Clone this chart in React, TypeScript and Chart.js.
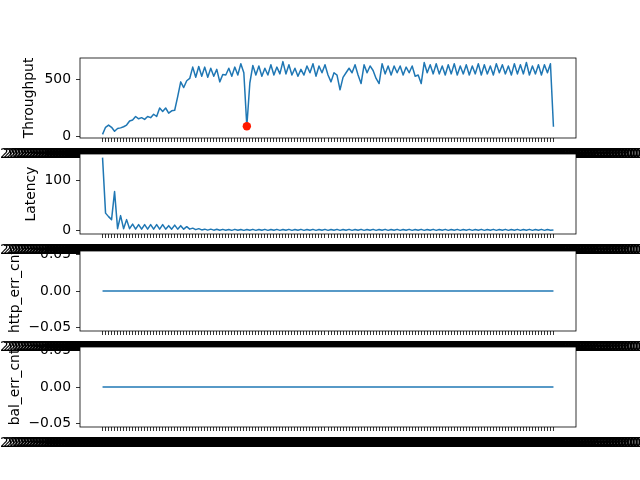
import React, { useEffect, useRef } from "react";
import { Chart, registerables } from "chart.js";

Chart.register(...registerables);

// ---------- data ----------
const throughput: number[] = [
  18, 80, 100, 80, 45, 70, 75, 85, 100, 135,
  145, 175, 155, 165, 150, 175, 165, 195, 175, 250,
  220, 250, 205, 225, 230, 350, 480, 430, 490, 510,
  610, 520, 615, 530, 610, 520, 600, 530, 590, 480,
  545, 540, 600, 530, 610, 540, 640, 560, 90, 470,
  625, 540, 620, 530, 600, 540, 630, 540, 610, 550,
  658, 550, 630, 540, 600, 530, 590, 540, 620, 560,
  640, 530, 620, 560, 630, 540, 480, 560, 540, 410,
  520, 560, 600, 560, 630, 540, 465, 630, 560, 620,
  580, 510, 465, 640, 550, 620, 540, 620, 560, 620,
  540, 610, 560, 620, 530, 540, 465, 650, 560, 630,
  550, 640, 550, 620, 540, 630, 550, 640, 540, 620,
  550, 630, 540, 620, 550, 640, 540, 630, 550, 620,
  540, 640, 560, 630, 550, 620, 540, 640, 550, 630,
  550, 650, 540, 620, 550, 630, 540, 630, 560, 640,
  85,
];

const latency: number[] = [
  145.7, 35, 28, 22, 78, 4, 30, 4, 22, 4,
  13, 3, 12, 3, 12, 3, 12, 3, 12, 3,
  12, 3, 10, 3, 11, 3, 10, 3, 8, 3,
  5, 2, 4, 1.5, 3, 1, 3, 1, 2.8, 0.8,
  2.6, 0.8, 2.4, 0.6, 2.6, 0.7, 2.5, 0.6, 2.4, 0.8,
  2.6, 0.6, 2.5, 0.7, 2.6, 0.6, 2.4, 0.8, 2.6, 0.6,
  2.5, 0.7, 2.6, 0.6, 2.4, 0.8, 2.6, 0.6, 2.5, 0.7,
  2.6, 0.6, 2.4, 0.8, 2.6, 0.6, 2.5, 0.7, 2.6, 0.6,
  2.4, 0.8, 2.6, 0.6, 2.5, 0.7, 2.6, 0.6, 2.4, 0.8,
  2.6, 0.6, 2.5, 0.7, 2.6, 0.6, 2.4, 0.8, 2.6, 0.6,
  2.5, 0.7, 2.6, 0.6, 2.4, 0.8, 2.6, 0.6, 2.5, 0.7,
  2.6, 0.6, 2.4, 0.8, 2.6, 0.6, 2.5, 0.7, 2.6, 0.6,
  2.4, 0.8, 2.6, 0.6, 2.5, 0.7, 2.6, 0.6, 2.4, 0.8,
  2.6, 0.6, 2.5, 0.7, 2.6, 0.6, 2.4, 0.8, 2.6, 0.6,
  2.5, 0.7, 2.6, 0.6, 2.4, 0.8, 2.6, 0.6, 2.5, 0.7,
  1.5,
];

const httpErrCnt: number[] = [
  0, 0, 0, 0, 0, 0, 0, 0, 0, 0,
  0, 0, 0, 0, 0, 0, 0, 0, 0, 0,
  0, 0, 0, 0, 0, 0, 0, 0, 0, 0,
  0, 0, 0, 0, 0, 0, 0, 0, 0, 0,
  0, 0, 0, 0, 0, 0, 0, 0, 0, 0,
  0, 0, 0, 0, 0, 0, 0, 0, 0, 0,
  0, 0, 0, 0, 0, 0, 0, 0, 0, 0,
  0, 0, 0, 0, 0, 0, 0, 0, 0, 0,
  0, 0, 0, 0, 0, 0, 0, 0, 0, 0,
  0, 0, 0, 0, 0, 0, 0, 0, 0, 0,
  0, 0, 0, 0, 0, 0, 0, 0, 0, 0,
  0, 0, 0, 0, 0, 0, 0, 0, 0, 0,
  0, 0, 0, 0, 0, 0, 0, 0, 0, 0,
  0, 0, 0, 0, 0, 0, 0, 0, 0, 0,
  0, 0, 0, 0, 0, 0, 0, 0, 0, 0,
  0,
];

const balErrCnt: number[] = [
  0, 0, 0, 0, 0, 0, 0, 0, 0, 0,
  0, 0, 0, 0, 0, 0, 0, 0, 0, 0,
  0, 0, 0, 0, 0, 0, 0, 0, 0, 0,
  0, 0, 0, 0, 0, 0, 0, 0, 0, 0,
  0, 0, 0, 0, 0, 0, 0, 0, 0, 0,
  0, 0, 0, 0, 0, 0, 0, 0, 0, 0,
  0, 0, 0, 0, 0, 0, 0, 0, 0, 0,
  0, 0, 0, 0, 0, 0, 0, 0, 0, 0,
  0, 0, 0, 0, 0, 0, 0, 0, 0, 0,
  0, 0, 0, 0, 0, 0, 0, 0, 0, 0,
  0, 0, 0, 0, 0, 0, 0, 0, 0, 0,
  0, 0, 0, 0, 0, 0, 0, 0, 0, 0,
  0, 0, 0, 0, 0, 0, 0, 0, 0, 0,
  0, 0, 0, 0, 0, 0, 0, 0, 0, 0,
  0, 0, 0, 0, 0, 0, 0, 0, 0, 0,
  0,
];

// indices of the flagged anomaly on the throughput panel
const throughputAnomalies: number[] = [48];

// y tick values per panel
const throughputTicks: number[] = [0, 500];
const latencyTicks: number[] = [0, 100];
const errTicks: number[] = [-0.05, 0, 0.05];

// x tick labels: one timestamp per sample
const START_MS = Date.UTC(2023, 5, 12, 10, 32, 22, 322);
const STEP_MS = 10000;
const pad2 = (n: number) => String(n).padStart(2, "0");
const timeLabels: string[] = throughput.map((_, i) => {
  const d = new Date(START_MS + i * STEP_MS);
  return (
    `${d.getUTCFullYear()}-${pad2(d.getUTCMonth() + 1)}-${pad2(d.getUTCDate())} ` +
    `${pad2(d.getUTCHours())}:${pad2(d.getUTCMinutes())}:${pad2(d.getUTCSeconds())}.` +
    `${String(d.getUTCMilliseconds()).padStart(3, "0")}000`
  );
});
const xTickValues: number[] = timeLabels.map((_, i) => i);

// ---------- styling ----------
const FONT = { family: "'DejaVu Sans', sans-serif", size: 13.9 };
const LINE_COLOR = "#1f77b4";
const CANVAS_W = 640;
const CANVAS_H = 122;

const intFmt = (v: number) => String(Math.round(v));
const errFmt = (v: number) => {
  const s = Math.abs(v) < 1e-12 ? "0.00" : v.toFixed(2);
  return s.replace("-", "\u2212");
};

function limits(vals: number[]): [number, number] {
  const lo = Math.min(...vals);
  const hi = Math.max(...vals);
  const r = hi - lo;
  if (r === 0) return [lo - 0.055, hi + 0.055];
  return [lo - 0.05 * r, hi + 0.05 * r];
}

type Panel = {
  title: string;
  values: number[];
  yTicks: number[];
  fmt: (v: number) => string;
  titlePad: number;
  top: number;
  anomalies?: number[];
};

const panels: Panel[] = [
  { title: "Throughput", values: throughput, yTicks: throughputTicks, fmt: intFmt, titlePad: 20.7, top: 46, anomalies: throughputAnomalies },
  { title: "Latency", values: latency, yTicks: latencyTicks, fmt: intFmt, titlePad: 22.7, top: 142 },
  { title: "http_err_cnt", values: httpErrCnt, yTicks: errTicks, fmt: errFmt, titlePad: 6.7, top: 239 },
  { title: "bal_err_cnt", values: balErrCnt, yTicks: errTicks, fmt: errFmt, titlePad: 6.7, top: 335 },
];

const framePlugin = {
  id: "axesFrame",
  beforeDraw(chart: any) {
    const { ctx, chartArea: a } = chart;
    ctx.save();
    ctx.fillStyle = "#ffffff";
    ctx.fillRect(a.left, a.top, a.right - a.left, a.bottom - a.top);
    ctx.restore();
  },
  afterDraw(chart: any) {
    const { ctx, chartArea: a } = chart;
    ctx.save();
    ctx.strokeStyle = "#000000";
    ctx.lineWidth = 0.8;
    ctx.strokeRect(a.left, a.top, a.right - a.left, a.bottom - a.top);
    ctx.restore();
  },
};

function buildConfig(p: Panel): any {
  const n = p.values.length;
  const [yMin, yMax] = limits(p.values);
  const datasets: any[] = [
    {
      type: "line",
      data: p.values.map((v, i) => ({ x: i, y: v })),
      borderColor: LINE_COLOR,
      borderWidth: 1.5,
      pointRadius: 0,
      tension: 0,
      fill: false,
      borderJoinStyle: "round",
      order: 1,
    },
  ];
  if (p.anomalies) {
    datasets.push({
      type: "scatter",
      data: p.anomalies.map((i) => ({ x: i, y: p.values[i] })),
      backgroundColor: "#ff1a00",
      borderColor: "#ff1a00",
      borderWidth: 0,
      pointRadius: 4.2,
      order: -1,
    });
  }
  const xSpan = n - 1;
  return {
    type: "line",
    data: { datasets },
    options: {
      animation: false,
      responsive: false,
      events: [],
      layout: { padding: { left: 0, right: 64, top: 12, bottom: 0 } },
      plugins: { legend: { display: false }, tooltip: { enabled: false } },
      scales: {
        x: {
          type: "linear",
          min: -0.05 * xSpan,
          max: xSpan + 0.05 * xSpan,
          afterBuildTicks: (s: any) => {
            s.ticks = xTickValues.map((v) => ({ value: v }));
          },
          afterFit: (s: any) => {
            s.height = 30;
            s.paddingLeft = 0;
            s.paddingRight = 0;
          },
          ticks: {
            autoSkip: false,
            maxRotation: 0,
            minRotation: 0,
            padding: 4.5,
            color: "#000",
            font: FONT,
            callback: (v: number) => timeLabels[v] ?? "",
          },
          grid: {
            display: true,
            drawOnChartArea: false,
            drawTicks: true,
            tickLength: 4,
            tickColor: "#000",
            tickWidth: 0.8,
          },
          border: { display: false },
        },
        y: {
          type: "linear",
          min: yMin,
          max: yMax,
          afterBuildTicks: (s: any) => {
            s.ticks = p.yTicks.map((v) => ({ value: v }));
          },
          afterFit: (s: any) => {
            s.width = 80;
            s.paddingTop = 0;
            s.paddingBottom = 0;
          },
          ticks: {
            padding: 5,
            color: "#000",
            font: FONT,
            callback: (v: number) => p.fmt(v),
          },
          grid: {
            display: true,
            drawOnChartArea: false,
            drawTicks: true,
            tickLength: 4,
            tickColor: "#000",
            tickWidth: 0.8,
          },
          border: { display: false },
          title: {
            display: true,
            text: p.title,
            color: "#000",
            font: FONT,
            padding: { top: p.titlePad, bottom: 0 },
          },
        },
      },
    },
    plugins: [framePlugin],
  };
}

function PanelChart({ panel }: { panel: Panel }) {
  const ref = useRef<HTMLCanvasElement | null>(null);
  useEffect(() => {
    if (!ref.current) return;
    const chart = new Chart(ref.current, buildConfig(panel));
    return () => chart.destroy();
  }, [panel]);
  return (
    <canvas
      ref={ref}
      width={CANVAS_W}
      height={CANVAS_H}
      style={{ position: "absolute", left: 0, top: panel.top, width: CANVAS_W, height: CANVAS_H }}
    />
  );
}

export default function App() {
  return (
    <div
      style={{
        position: "fixed",
        left: 0,
        top: 0,
        width: 640,
        height: 480,
        background: "#ffffff",
        overflow: "hidden",
      }}
    >
      {panels.map((p) => (
        <PanelChart key={p.title} panel={p} />
      ))}
    </div>
  );
}
